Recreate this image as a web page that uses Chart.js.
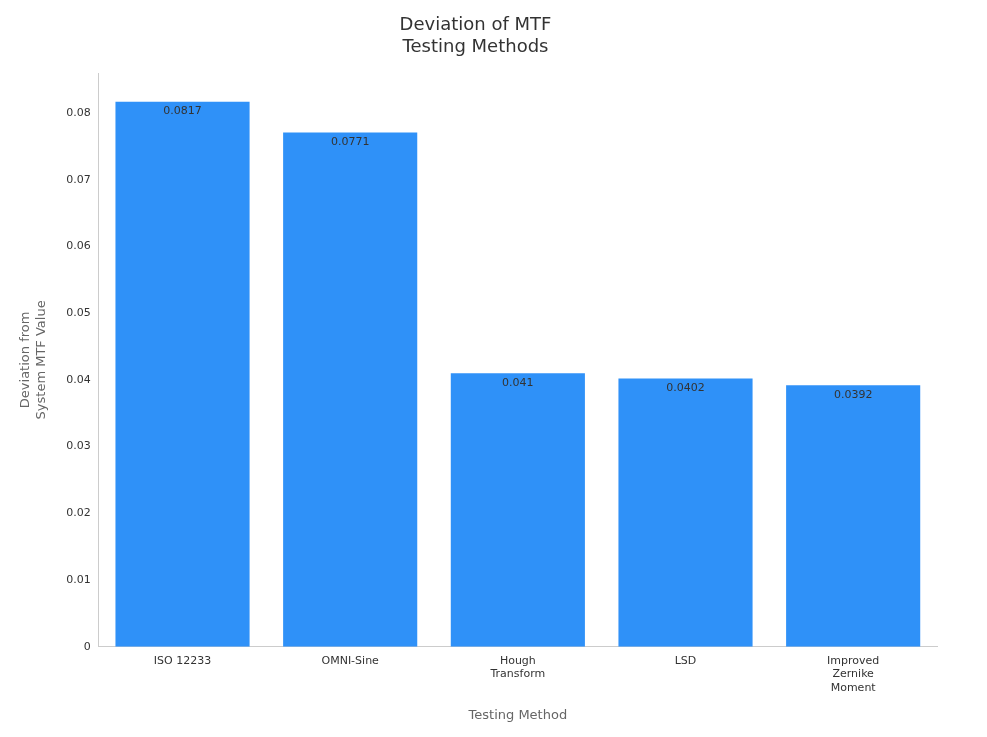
<!DOCTYPE html>
<html>
<head>
<meta charset="utf-8">
<script src="https://cdn.jsdelivr.net/npm/chart.js@4"></script>
<style>
  body { margin: 0; background: #fff; }
  .chart-container { width: 987px; height: 737px; }
</style>
</head>
<body>
<div class="chart-container"><canvas id="chart"></canvas></div>
<script>
const categories = [['ISO 12233'], ['OMNI-Sine'], ['Hough', 'Transform'], ['LSD'], ['Improved', 'Zernike', 'Moment']];
const deviations = [0.0817, 0.0771, 0.041, 0.0402, 0.0392];
const valueLabels = ['0.0817', '0.0771', '0.041', '0.0402', '0.0392'];

// draw the value just under the top of each bar
const barLabels = {
    id: 'barLabels',
    afterDatasetsDraw(chart) {
        const ctx = chart.ctx;
        const meta = chart.getDatasetMeta(0);
        ctx.save();
        ctx.font = '11px "DejaVu Sans"';
        ctx.fillStyle = '#333';
        ctx.textAlign = 'center';
        ctx.textBaseline = 'top';
        meta.data.forEach((bar, i) => {
            ctx.fillText(valueLabels[i], bar.x, bar.y + 4);
        });
        ctx.restore();
    }
};

new Chart(document.getElementById('chart').getContext('2d'), {
    type: 'bar',
    data: {
        labels: categories,
        datasets: [{
            data: deviations,
            backgroundColor: '#2f91f8',
            categoryPercentage: 0.8,
            barPercentage: 1.0,
        }],
    },
    options: {
        responsive: true,
        maintainAspectRatio: false,
        animation: false,
        layout: { padding: { left: 14, right: 50, top: 10, bottom: 10 } },
        plugins: {
            legend: { display: false },
            tooltip: { enabled: false },
            title: {
                display: true,
                text: ['Deviation of MTF', 'Testing Methods'],
                color: '#333',
                font: { family: 'DejaVu Sans', size: 18, weight: 'normal', lineHeight: 1.25 },
                padding: { top: 4, bottom: 14 },
            },
        },
        scales: {
            x: {
                grid: { display: false, drawTicks: true, tickLength: 5 },
                border: { color: '#ccc' },
                ticks: { color: '#333', font: { family: 'DejaVu Sans', size: 11 }, maxRotation: 0, autoSkip: false },
                title: { display: true, text: 'Testing Method', color: '#666', font: { family: 'DejaVu Sans', size: 13 }, padding: { top: 10 } },
            },
            y: {
                min: 0,
                max: 0.086,
                grid: { display: false, drawTicks: true, tickLength: 5 },
                border: { color: '#ccc' },
                ticks: {
                    stepSize: 0.01,
                    color: '#333',
                    font: { family: 'DejaVu Sans', size: 11 },
                    callback: (v) => (Math.round(v * 100) / 100).toString(),
                },
                afterBuildTicks: (axis) => { axis.ticks = axis.ticks.filter(t => t.value <= 0.0801); },
                title: { display: true, text: ['Deviation from', 'System MTF Value'], color: '#666', font: { family: 'DejaVu Sans', size: 13 }, padding: { bottom: 14 } },
            },
        },
    },
    plugins: [barLabels],
});
</script>
</body>
</html>
